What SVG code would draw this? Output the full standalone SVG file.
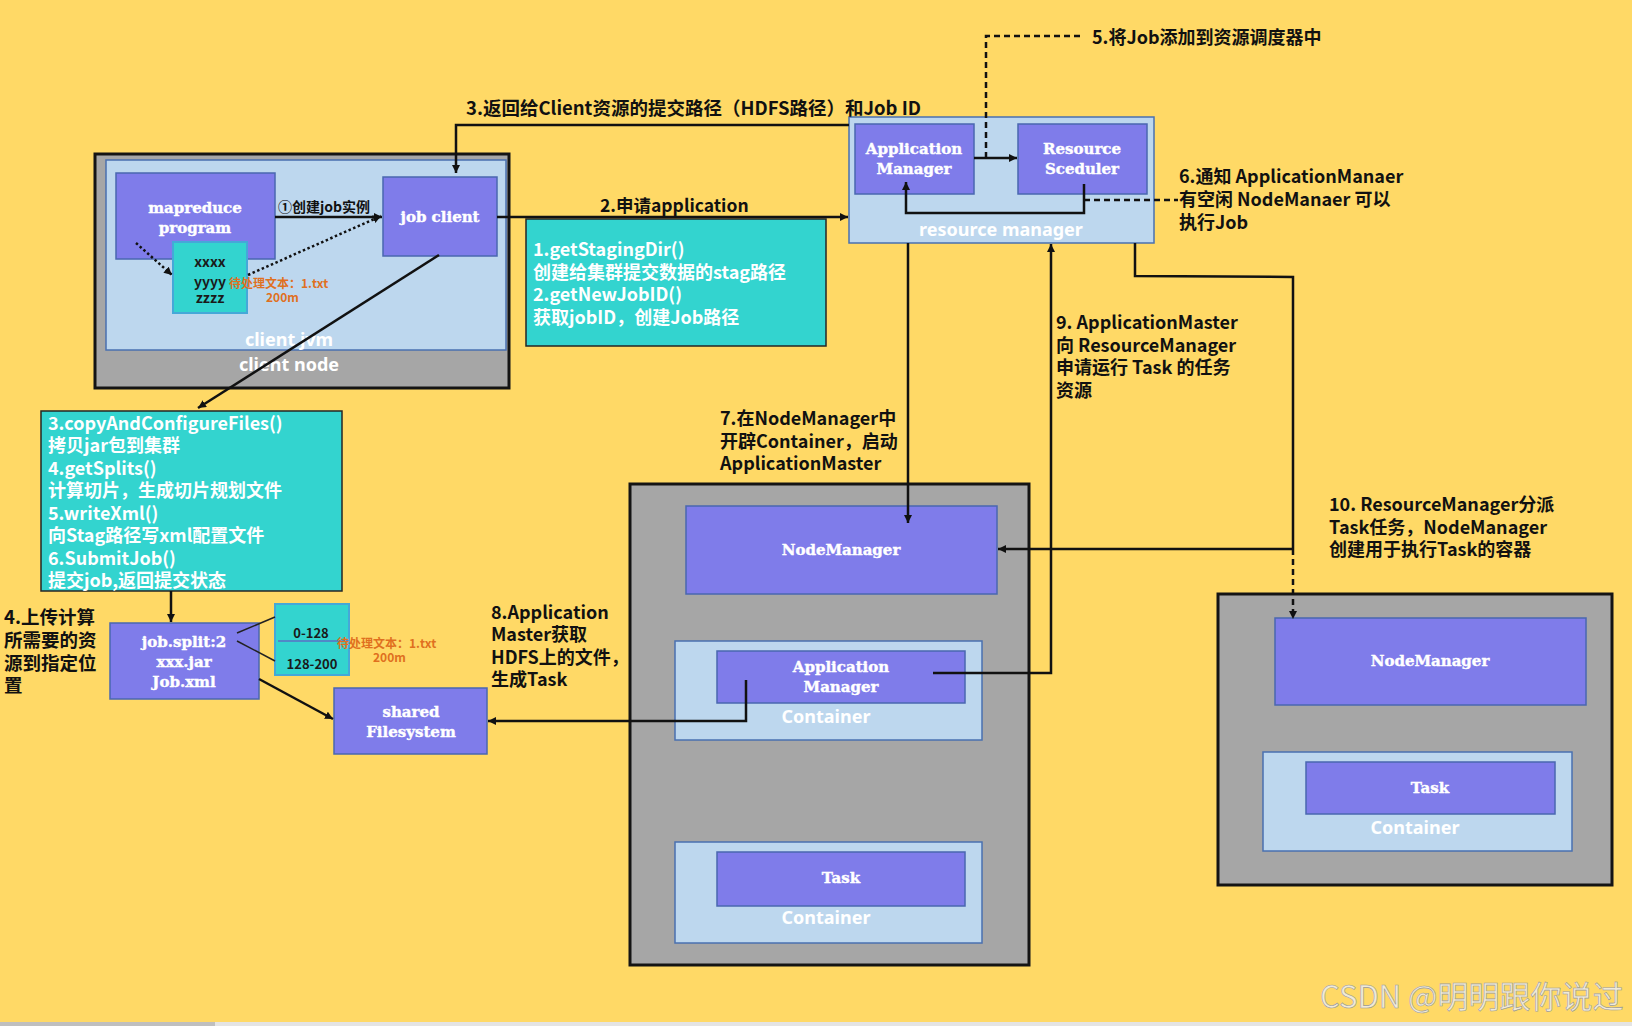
<svg xmlns="http://www.w3.org/2000/svg" width="1632" height="1026" viewBox="0 0 1632 1026">
<style>
.bg{fill:#FFD966}
.gray{fill:#A6A6A6;stroke:#141414;stroke-width:3}
.lb{fill:#BDD7EE;stroke:#4A70B0;stroke-width:1.5}
.pu{fill:#7F7CEA;stroke:#4A67B0;stroke-width:1.5}
.cy{fill:#33D4CF;stroke:#262626;stroke-width:1.5}
.cyb{fill:#33D4CF;stroke:#45A8D8;stroke-width:2}
.nt{font-family:"DejaVu Serif","Liberation Serif",serif;font-weight:bold;font-size:15px;fill:#FFFFFF;stroke:#FFFFFF;stroke-width:0.4;text-anchor:middle;dominant-baseline:central}
.wt{font-family:"Noto Sans","Liberation Sans",sans-serif;font-weight:bold;font-size:18px;fill:#FFFFFF;text-anchor:middle;dominant-baseline:central}
.lbl{font-family:"Noto Sans CJK SC","Noto Sans",sans-serif;font-weight:bold;font-size:18px;fill:#111111;dominant-baseline:central}
.ct{font-family:"Noto Sans CJK SC","Noto Sans",sans-serif;font-weight:bold;font-size:18px;fill:#FFFFFF;dominant-baseline:central}
.dk{font-family:"Noto Sans CJK SC","Noto Sans",sans-serif;font-weight:bold;font-size:14px;fill:#1A1A1A;text-anchor:middle;dominant-baseline:central}
.or{font-family:"Noto Sans CJK SC","Noto Sans",sans-serif;font-weight:bold;font-size:12px;fill:#E0701F;dominant-baseline:central}
.ln{fill:none;stroke:#111111;stroke-width:2.5}
.dash{fill:none;stroke:#111111;stroke-width:2.5;stroke-dasharray:6 4}
.dot{fill:none;stroke:#111111;stroke-width:2.5;stroke-dasharray:2.5 2.5}
.thin{fill:none;stroke:#222222;stroke-width:1.5}
</style>
<defs>
<marker id="arr" markerUnits="userSpaceOnUse" markerWidth="9" markerHeight="9" refX="8" refY="4" orient="auto">
<path d="M0,0 L8,4 L0,8 z" fill="#111111"/>
</marker>
</defs>
<rect class="bg" x="0" y="0" width="1632" height="1026"/>
<rect x="0" y="1022" width="1632" height="4" fill="#E4E4E4"/>
<rect x="0" y="1022" width="215" height="4" fill="#BFBFBF"/>

<g id="client-node">
<rect class="gray" x="95" y="154" width="414" height="234"/>
<text class="wt" x="289" y="364">client node</text>
</g>
<g id="client-jvm">
<rect class="lb" x="106" y="160" width="400" height="190"/>
<text class="wt" x="289" y="339">client jvm</text>
</g>
<g id="mapreduce-program">
<rect class="pu" x="116" y="173" width="159" height="86"/>
<text class="nt" x="195" y="208">mapreduce</text>
<text class="nt" x="195" y="228">program</text>
</g>
<g id="job-client">
<rect class="pu" x="383" y="177" width="114" height="79"/>
<text class="nt" x="440" y="217">job client</text>
</g>
<g id="input-file">
<rect class="cyb" x="173" y="242" width="74" height="71"/>
<text class="dk" x="210" y="261">xxxx</text>
<text class="dk" x="210" y="281">yyyy</text>
<text class="dk" x="210" y="297">zzzz</text>
<text class="or" x="229" y="282">待处理文本：1.txt</text>
<text class="or" x="266" y="296">200m</text>
</g>

<g id="staging-box">
<rect class="cy" x="526" y="219" width="300" height="127"/>
<text class="ct" x="533" y="248">1.getStagingDir()</text>
<text class="ct" x="533" y="271">创建给集群提交数据的stag路径</text>
<text class="ct" x="533" y="293">2.getNewJobID()</text>
<text class="ct" x="533" y="316">获取jobID，创建Job路径</text>
</g>

<g id="submit-box">
<rect class="cy" x="41" y="411" width="301" height="180"/>
<text class="ct" x="48" y="422">3.copyAndConfigureFiles()</text>
<text class="ct" x="48" y="444">拷贝jar包到集群</text>
<text class="ct" x="48" y="467">4.getSplits()</text>
<text class="ct" x="48" y="489">计算切片，生成切片规划文件</text>
<text class="ct" x="48" y="512">5.writeXml()</text>
<text class="ct" x="48" y="534">向Stag路径写xml配置文件</text>
<text class="ct" x="48" y="557">6.SubmitJob()</text>
<text class="ct" x="48" y="579">提交job,返回提交状态</text>
</g>

<g id="job-files">
<rect class="pu" x="110" y="623" width="149" height="76"/>
<text class="nt" x="184" y="642">job.split:2</text>
<text class="nt" x="184" y="662">xxx.jar</text>
<text class="nt" x="184" y="682">Job.xml</text>
</g>
<g id="splits">
<rect class="cyb" x="275" y="604" width="74" height="71"/>
<line x1="278" y1="641" x2="348" y2="641" stroke="#5B6FC4" stroke-width="1.5"/>
<text class="dk" x="311" y="632" style="font-size:13px">0-128</text>
<text class="dk" x="312" y="663" style="font-size:13px">128-200</text>
<text class="or" x="337" y="642">待处理文本：1.txt</text>
<text class="or" x="373" y="656">200m</text>
</g>
<g id="shared-filesystem">
<rect class="pu" x="334" y="688" width="153" height="66"/>
<text class="nt" x="411" y="712">shared</text>
<text class="nt" x="411" y="732">Filesystem</text>
</g>

<g id="resource-manager">
<rect class="lb" x="849" y="117" width="305" height="126"/>
<text class="wt" x="1001" y="229">resource manager</text>
</g>
<g id="application-manager-rm">
<rect class="pu" x="855" y="124" width="119" height="70"/>
<text class="nt" x="914" y="149">Application</text>
<text class="nt" x="914" y="169">Manager</text>
</g>
<g id="resource-scheduler">
<rect class="pu" x="1018" y="124" width="129" height="70"/>
<text class="nt" x="1082" y="149">Resource</text>
<text class="nt" x="1082" y="169">Sceduler</text>
</g>

<g id="node1">
<rect class="gray" x="630" y="484" width="399" height="481"/>
</g>
<g id="nodemanager1">
<rect class="pu" x="686" y="506" width="311" height="88"/>
<text class="nt" x="841" y="550">NodeManager</text>
</g>
<g id="container-am">
<rect class="lb" x="675" y="641" width="307" height="99"/>
<text class="wt" x="826" y="716">Container</text>
</g>
<g id="application-master">
<rect class="pu" x="717" y="651" width="248" height="52"/>
<text class="nt" x="841" y="667">Application</text>
<text class="nt" x="841" y="687">Manager</text>
</g>
<g id="container-task1">
<rect class="lb" x="675" y="842" width="307" height="101"/>
<text class="wt" x="826" y="917">Container</text>
</g>
<g id="task1">
<rect class="pu" x="717" y="852" width="248" height="54"/>
<text class="nt" x="841" y="878">Task</text>
</g>

<g id="node2">
<rect class="gray" x="1218" y="594" width="394" height="291"/>
</g>
<g id="nodemanager2">
<rect class="pu" x="1275" y="618" width="311" height="87"/>
<text class="nt" x="1430" y="661">NodeManager</text>
</g>
<g id="container-task2">
<rect class="lb" x="1263" y="752" width="309" height="99"/>
<text class="wt" x="1415" y="827">Container</text>
</g>
<g id="task2">
<rect class="pu" x="1306" y="762" width="249" height="52"/>
<text class="nt" x="1430" y="788">Task</text>
</g>

<g id="connectors">
<line class="ln" x1="275" y1="217" x2="382" y2="217" marker-end="url(#arr)"/>
<line class="dot" x1="136" y1="243" x2="172" y2="275" marker-end="url(#arr)"/>
<line class="dot" x1="248" y1="275" x2="381" y2="216" marker-end="url(#arr)"/>
<polyline class="ln" points="849,125 456,125 456,173" marker-end="url(#arr)"/>
<line class="ln" x1="497" y1="217" x2="848" y2="217" marker-end="url(#arr)"/>
<line class="ln" x1="439" y1="255" x2="198" y2="408" marker-end="url(#arr)"/>
<line class="ln" x1="171" y1="591" x2="171" y2="622" marker-end="url(#arr)"/>
<line class="thin" x1="237" y1="633" x2="275" y2="617"/>
<line class="thin" x1="237" y1="641" x2="275" y2="661"/>
<line class="ln" x1="259" y1="679" x2="333" y2="719" marker-end="url(#arr)"/>
<polyline class="ln" points="746,680 746,721 488,721" marker-end="url(#arr)"/>
<polyline class="ln" points="933,673 1051,673 1051,244" marker-end="url(#arr)"/>
<line class="ln" x1="908" y1="243" x2="908" y2="523" marker-end="url(#arr)"/>
<polyline class="ln" points="1135,243 1135,276 1293,277 1293,549"/>
<line class="ln" x1="1293" y1="549" x2="998" y2="549" marker-end="url(#arr)"/>
<line class="dash" x1="1293" y1="549" x2="1293" y2="619" marker-end="url(#arr)"/>
<line class="ln" x1="974" y1="158" x2="1017" y2="158" marker-end="url(#arr)"/>
<polyline class="dash" points="986,158 986,36 1082,36"/>
<polyline class="ln" points="1084,184 1084,213 906,213 906,182" marker-end="url(#arr)"/>
<line class="dash" x1="1084" y1="200" x2="1178" y2="200"/>
</g>

<g id="labels">
<text class="lbl" x="278" y="206" style="font-size:14px">①创建job实例</text>
<text class="lbl" x="466" y="107" style="font-size:18.5px">3.返回给Client资源的提交路径（HDFS路径）和Job ID</text>
<text class="lbl" x="600" y="204" style="font-size:17.5px">2.申请application</text>
<text class="lbl" x="1092" y="36">5.将Job添加到资源调度器中</text>
<text class="lbl" x="1179" y="175">6.通知 ApplicationManaer</text>
<text class="lbl" x="1179" y="198">有空闲 NodeManaer 可以</text>
<text class="lbl" x="1179" y="221">执行Job</text>
<text class="lbl" x="720" y="417">7.在NodeManager中</text>
<text class="lbl" x="720" y="440">开辟Container，启动</text>
<text class="lbl" x="720" y="462">ApplicationMaster</text>
<text class="lbl" x="1056" y="321">9. ApplicationMaster</text>
<text class="lbl" x="1056" y="344">向 ResourceManager</text>
<text class="lbl" x="1056" y="366">申请运行 Task 的任务</text>
<text class="lbl" x="1056" y="389">资源</text>
<text class="lbl" x="1329" y="503">10. ResourceManager分派</text>
<text class="lbl" x="1329" y="526">Task任务，NodeManager</text>
<text class="lbl" x="1329" y="548">创建用于执行Task的容器</text>
<text class="lbl" x="491" y="611">8.Application</text>
<text class="lbl" x="491" y="633">Master获取</text>
<text class="lbl" x="491" y="656">HDFS上的文件，</text>
<text class="lbl" x="491" y="678">生成Task</text>
<text class="lbl" x="4" y="616" style="font-size:18.5px">4.上传计算</text>
<text class="lbl" x="4" y="639" style="font-size:18.5px">所需要的资</text>
<text class="lbl" x="4" y="662" style="font-size:18.5px">源到指定位</text>
<text class="lbl" x="4" y="684" style="font-size:18.5px">置</text>
</g>
<text x="1320" y="1008" font-family="'Noto Sans CJK SC','Noto Sans',sans-serif" font-size="31" fill="#EEEEEE" fill-opacity="0.85" stroke="#9A9A9A" stroke-width="0.6">CSDN @明明跟你说过</text>
</svg>
